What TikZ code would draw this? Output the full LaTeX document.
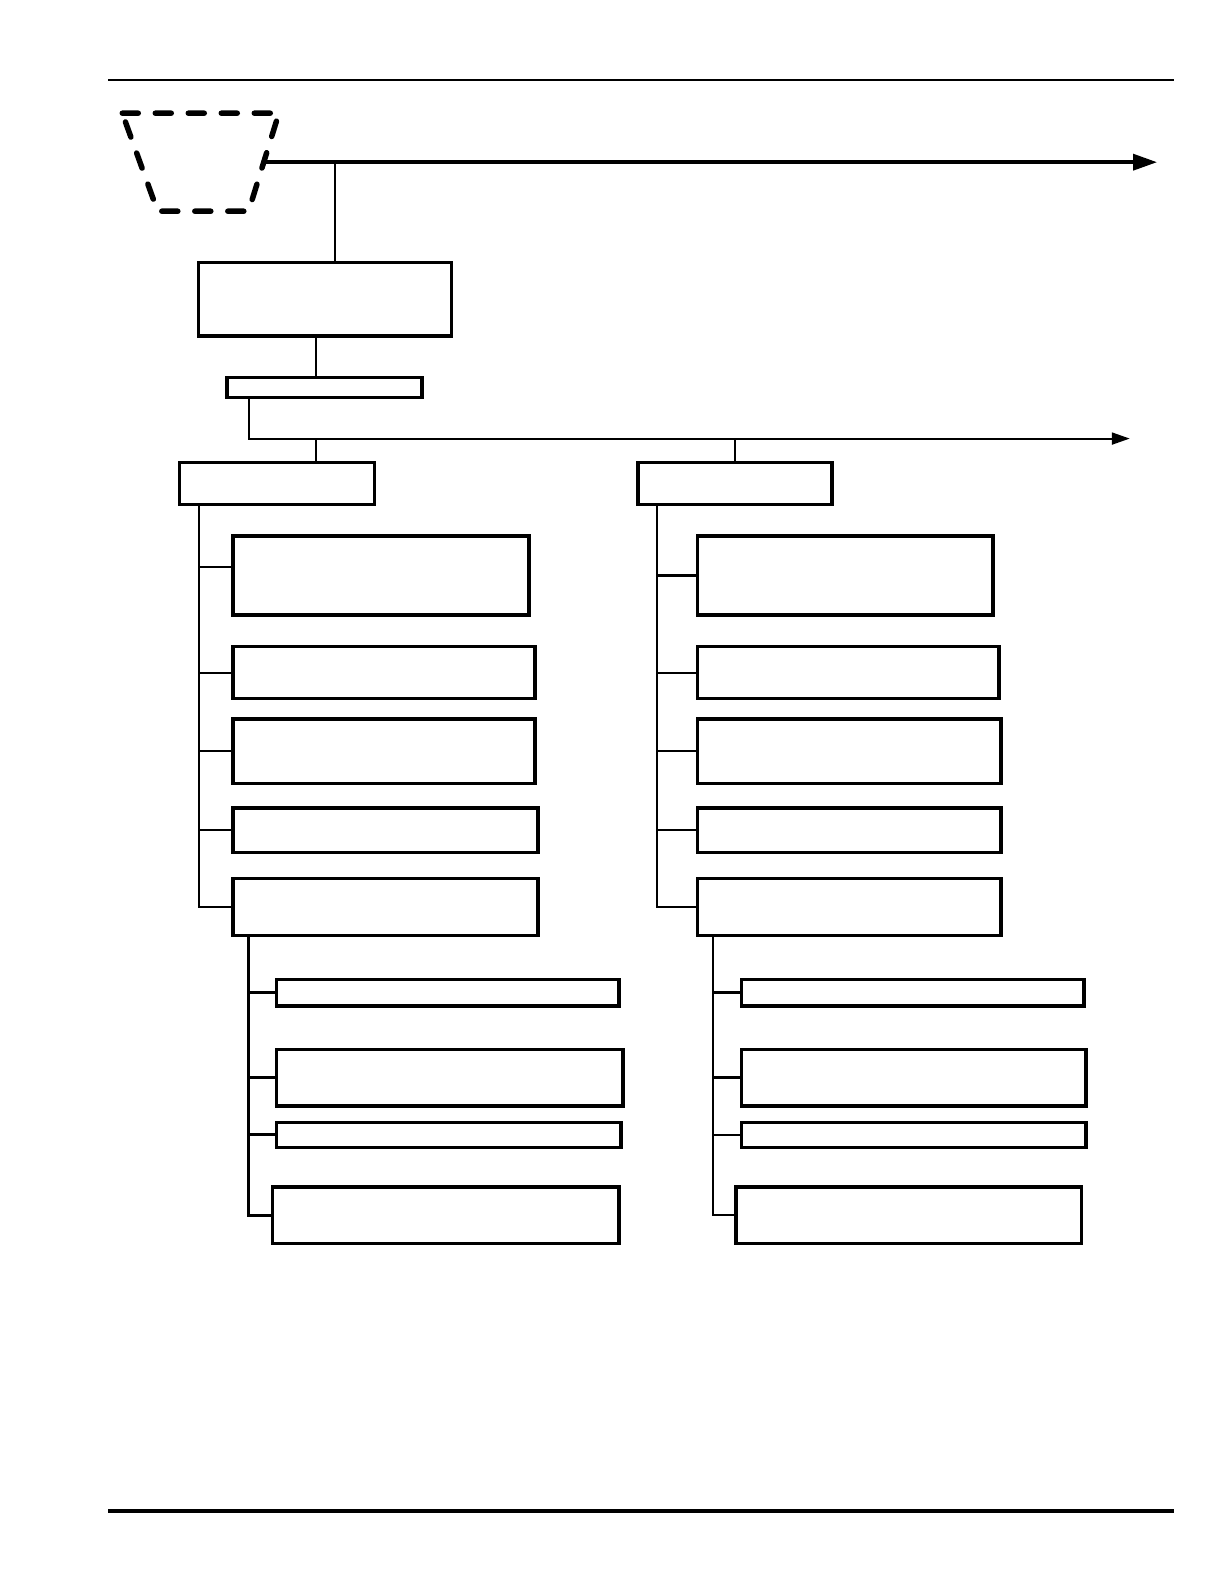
\documentclass[tikz,border=0pt]{standalone}
\usetikzlibrary{arrows.meta,positioning,calc}
\newdimen\pxu
\pxu=1.0105bp

\begin{document}
\begin{tikzpicture}[x=\pxu,y=-\pxu,>={Triangle[length=24bp,width=16bp]},semithick]
\tikzstyle{every node}=[inner sep=0pt,outer sep=0pt]
\tikzstyle{blk}=[draw=black,line width=3.4bp,rectangle,anchor=north west]
\tikzstyle{wire}=[line width=2bp]
\tikzstyle{bus}=[line width=3bp]

\useasboundingbox (0,0) rectangle (1211.3,1567.5);

        % page rules
        \draw[line width=2bp] (107,79) -- (1162,79);
        \draw[line width=4bp] (107,1495) -- (1162,1495);

        % dashed source outline
        \coordinate (s1) at (121,112);
        \coordinate (s2) at (276,112);
        \coordinate (s3) at (246,209);
        \coordinate (s4) at (156,209);
        \draw[line width=5.5bp, dash pattern=on 16bp off 17bp, line cap=round]
              (s1) -- (s2) -- (s3) -- (s4) -- cycle;
        \coordinate (src) at ($(s2)!0.5!(s3)$);

        \node[blk, minimum width=250\pxu, minimum height=73\pxu]          (A)   at (196.5,259.5) {};
        \node[blk, minimum width=193\pxu, minimum height=20\pxu]          (B)   at (224.5,373.5) {};

        \node[blk, minimum width=193\pxu, minimum height=42\pxu]          (L)   at (177.5,457.5) {};
        \node[blk, minimum width=192\pxu, minimum height=42\pxu]          (R)   at (631.5,457.5) {};

        \node[blk, minimum width=293\pxu, minimum height=78\pxu]          (L1)  at (230.5,530.5) {};
        \node[blk, minimum width=299\pxu, minimum height=52\pxu]          (L2)  at (230.5,639.5) {};
        \node[blk, minimum width=299\pxu, minimum height=64\pxu]          (L3)  at (230.5,711.5) {};
        \node[blk, minimum width=302\pxu, minimum height=44\pxu]          (L4)  at (230.5,799.5) {};
        \node[blk, minimum width=302\pxu, minimum height=56\pxu]          (L5)  at (230.5,869.5) {};

        \node[blk, minimum width=292\pxu, minimum height=78\pxu]          (R1)  at (690.5,530.5) {};
        \node[blk, minimum width=298\pxu, minimum height=52\pxu]          (R2)  at (690.5,639.5) {};
        \node[blk, minimum width=300\pxu, minimum height=64\pxu]          (R3)  at (690.5,711.5) {};
        \node[blk, minimum width=300\pxu, minimum height=44\pxu]          (R4)  at (690.5,799.5) {};
        \node[blk, minimum width=300\pxu, minimum height=56\pxu]          (R5)  at (690.5,869.5) {};

        \node[blk, minimum width=339\pxu, minimum height=26\pxu]          (La)  at (273.5,969.5) {};
        \node[blk, minimum width=343\pxu, minimum height=56\pxu]          (Lb)  at (273.5,1038.5) {};
        \node[blk, minimum width=341\pxu, minimum height=25\pxu]          (Lc)  at (273.5,1110.5) {};
        \node[blk, minimum width=343\pxu, minimum height=56\pxu]          (Ld)  at (269.5,1174.5) {};

        \node[blk, minimum width=339\pxu, minimum height=26\pxu]          (Ra)  at (733.5,969.5) {};
        \node[blk, minimum width=341\pxu, minimum height=56\pxu]          (Rb)  at (733.5,1038.5) {};
        \node[blk, minimum width=341\pxu, minimum height=25\pxu]          (Rc)  at (733.5,1110.5) {};
        \node[blk, minimum width=342\pxu, minimum height=56\pxu]          (Rd)  at (728.5,1174.5) {};

        \coordinate (head1) at (1145,160);
        \coordinate (head2) at (1118,434);
        \coordinate (j1)    at (332,160);
        \coordinate (tapL)  at (313,434);
        \coordinate (tapR)  at (727,434);
        \coordinate (trL)   at ([xshift=19.5\pxu]L.south west);
        \coordinate (trR)   at ([xshift=18.5\pxu]R.south west);
        \coordinate (sbL)   at ([xshift=15.5\pxu]L5.south west);
        \coordinate (sbR)   at ([xshift=15.5\pxu]R5.south west);
        \coordinate (L1w)   at ($(L1.west)+(0,-8.5)$);

        \draw[->, line width=3.5bp] (src) -- (src -| head1);
        \draw[wire] (j1) -- (j1 |- A.north);
        \draw[wire] ([xshift=-8.5\pxu]A.south) -- ([xshift=-8.5\pxu]A.south |- B.north);
        \draw[wire, -{Triangle[length=18bp,width=12bp]}] ([xshift=21.5\pxu]B.south west) |- (head2);
        \draw[wire] (tapL) -- (tapL |- L.north);
        \draw[wire] (tapR) -- (tapR |- R.north);

        % left column
        \draw[wire] (trL) |- (L5.west);
        \draw[wire] (trL |- L1w) -- (L1w);
        \draw[wire] (trL |- L2.west) -- (L2.west);
        \draw[wire] (trL |- L3.west) -- (L3.west);
        \draw[wire] (trL |- L4.west) -- (L4.west);

        \draw[bus] (sbL) |- (Ld.west);
        \draw[bus] (sbL |- La.west) -- (La.west);
        \draw[bus] (sbL |- Lb.west) -- (Lb.west);
        \draw[bus] (sbL |- Lc.west) -- (Lc.west);

        % right column
        \draw[wire] (trR) |- (R5.west);
        \draw[bus]  (trR |- R1.west) -- (R1.west);
        \draw[wire] (trR |- R2.west) -- (R2.west);
        \draw[wire] (trR |- R3.west) -- (R3.west);
        \draw[wire] (trR |- R4.west) -- (R4.west);

        \draw[wire] (sbR) |- (Rd.west);
        \draw[bus]  (sbR |- Ra.west) -- (Ra.west);
        \draw[bus]  (sbR |- Rb.west) -- (Rb.west);
        \draw[wire] (sbR |- Rc.west) -- (Rc.west);

\end{tikzpicture}
\end{document}
